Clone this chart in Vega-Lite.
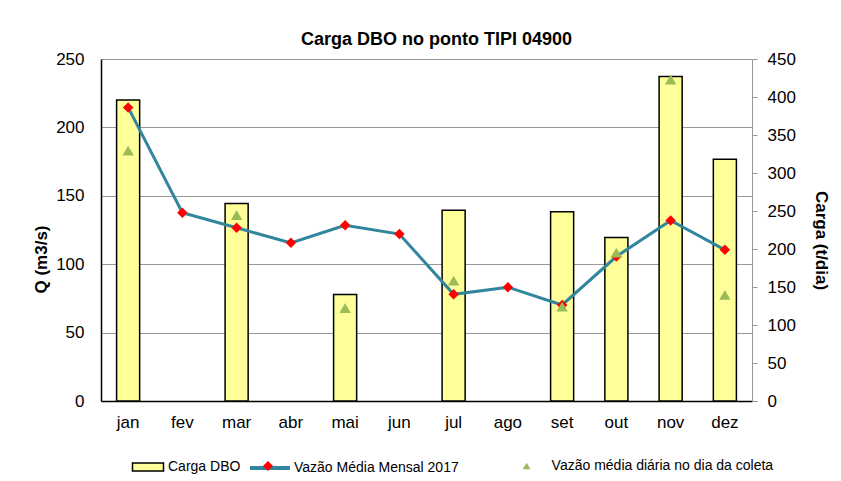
{
  "$schema": "https://vega.github.io/schema/vega-lite/v6.json",
  "width": 651,
  "height": 342,
  "autosize": {"type": "none"},
  "padding": {"left": 101, "top": 59, "right": 89, "bottom": 80},
  "background": "#ffffff",
  "config": {
    "font": "Liberation Sans",
    "view": {"stroke": null},
    "legend": {"padding": 0, "labelFont": "Liberation Sans", "labelFontSize": 14, "labelColor": "#000000", "labelLimit": 0, "symbolSize": 400}
  },
  "title": {
    "text": "Carga DBO no ponto TIPI 04900",
    "font": "Liberation Sans",
    "fontSize": 18,
    "fontWeight": "bold",
    "anchor": "middle",
    "dx": 10,
    "offset": 1,
    "color": "#000000"
  },
  "data": {
    "values": [
      {"mes": "jan", "carga": 396, "vazao": 214.6, "coleta": 183},
      {"mes": "fev", "carga": null, "vazao": 137.6, "coleta": null},
      {"mes": "mar", "carga": 260, "vazao": 126.6, "coleta": 136},
      {"mes": "abr", "carga": null, "vazao": 115.6, "coleta": null},
      {"mes": "mai", "carga": 140, "vazao": 128.5, "coleta": 68},
      {"mes": "jun", "carga": null, "vazao": 122, "coleta": null},
      {"mes": "jul", "carga": 251, "vazao": 78, "coleta": 88},
      {"mes": "ago", "carga": null, "vazao": 83.2, "coleta": null},
      {"mes": "set", "carga": 249, "vazao": 70.2, "coleta": 69},
      {"mes": "out", "carga": 215, "vazao": 105.6, "coleta": 108.5},
      {"mes": "nov", "carga": 427, "vazao": 132, "coleta": 235},
      {"mes": "dez", "carga": 318, "vazao": 110.5, "coleta": 77.6}
    ]
  },
  "encoding": {
    "x": {
      "field": "mes",
      "type": "nominal",
      "sort": ["jan","fev","mar","abr","mai","jun","jul","ago","set","out","nov","dez"],
      "scale": {"paddingInner": 0.575, "paddingOuter": 0.2875},
      "axis": {
        "title": null,
        "labelAngle": 0,
        "labelFontSize": 17,
        "labelColor": "#000000",
        "labelPadding": 13,
        "ticks": false,
        "domainColor": "#000000",
        "domainWidth": 1.5,
        "grid": false
      }
    }
  },
  "layer": [
    {
      "mark": {"type": "bar", "stroke": "#000000", "strokeWidth": 1.5},
      "transform": [{"filter": "datum.carga != null"}],
      "encoding": {
        "y": {
          "field": "carga",
          "type": "quantitative",
          "scale": {"domain": [0, 450], "nice": false},
          "axis": {
            "orient": "right",
            "title": "Carga (t/dia)",
            "titleFontSize": 17,
            "titleFontWeight": "bold",
            "titleColor": "#000000",
            "titlePadding": 16,
            "titleY": 181,
            "values": [0,50,100,150,200,250,300,350,400,450],
            "labelFontSize": 17,
            "labelColor": "#000000",
            "labelPadding": 10,
            "tickSize": 5,
            "tickColor": "#999999",
            "domainColor": "#999999",
            "grid": false
          }
        },
        "fill": {
          "datum": "Carga DBO",
          "scale": {"domain": ["Carga DBO"], "range": ["#ffff99"]},
          "legend": {
            "title": null,
            "orient": "none",
            "legendX": 36,
            "legendY": 397,
            "symbolType": "M-1.55,-0.4H1.55V0.4H-1.55Z",
            "symbolStrokeColor": "#000000",
            "symbolStrokeWidth": 1.5,
            "labelOffset": 9
          }
        }
      }
    },
    {
      "layer": [
        {
          "mark": {"type": "line", "strokeWidth": 3},
          "encoding": {
            "y": {
              "field": "vazao",
              "type": "quantitative",
              "scale": {"domain": [0, 250], "nice": false},
              "axis": {
                "orient": "left",
                "title": "Q (m3/s)",
                "titleFontSize": 17,
                "titleFontWeight": "bold",
                "titleColor": "#000000",
                "titlePadding": 5,
                "titleY": 200,
                "values": [0,50,100,150,200,250],
                "labelFontSize": 17,
                "labelColor": "#000000",
                "labelPadding": 17,
                "ticks": false,
                "domainColor": "#000000",
                "domainWidth": 1.5,
                "grid": true,
                "gridColor": "#999999",
                "gridWidth": 1.2,
                "gridOpacity": 1
              }
            },
            "stroke": {
              "datum": "Vazão Média Mensal 2017",
              "scale": {"domain": ["Vazão Média Mensal 2017"], "range": ["#31859c"]},
              "legend": {
                "title": null,
                "orient": "none",
                "legendX": 157,
                "legendY": 397,
                "symbolType": "M-2,0H2",
                "symbolFillColor": "transparent",
                "symbolStrokeWidth": 4,
                "labelOffset": 12
              }
            }
          }
        },
        {
          "mark": {"type": "point", "shape": "diamond", "filled": true, "size": 110, "opacity": 1},
          "encoding": {
            "y": {"field": "vazao", "type": "quantitative"},
            "color": {
              "datum": "marcador",
              "scale": {"domain": ["marcador"], "range": ["#ff0000"]},
              "legend": {
                "title": null,
                "orient": "none",
                "legendX": 157,
                "legendY": 397,
                "symbolType": "M0,-0.5L0.5,0L0,0.5L-0.5,0Z",
                "symbolOpacity": 1,
                "symbolStrokeWidth": 0,
                "symbolFillColor": "#ff0000",
                "labelExpr": "''"
              }
            }
          }
        },
        {
          "mark": {"type": "point", "filled": true, "size": 130, "color": "#9bbb59", "opacity": 1},
          "transform": [{"filter": "datum.coleta != null"}],
          "encoding": {
            "y": {"field": "coleta", "type": "quantitative"},
            "shape": {
              "datum": "Vazão média diária no dia da coleta",
              "scale": {"domain": ["Vazão média diária no dia da coleta"], "range": ["triangle-up"]},
              "legend": {
                "title": null,
                "orient": "none",
                "legendX": 418.6,
                "legendY": 400,
                "symbolSize": 60,
                "symbolFillColor": "#9bbb59",
                "symbolStrokeWidth": 0,
                "symbolOpacity": 1,
                "labelOffset": 18
              }
            }
          }
        }
      ]
    }
  ],
  "resolve": {"scale": {"y": "independent"}}
}
